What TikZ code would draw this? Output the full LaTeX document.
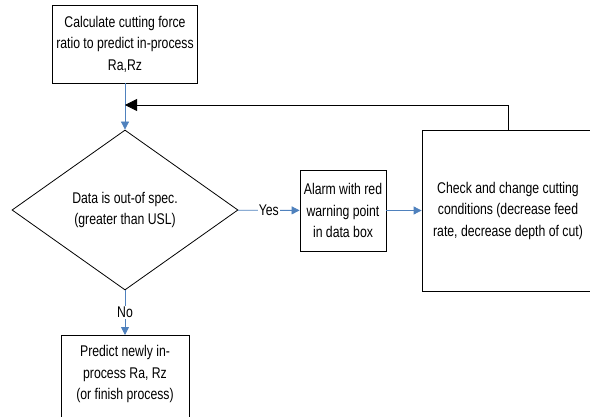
\documentclass[tikz,border=0pt]{standalone}
\usepackage{fontspec}
\setmainfont{Liberation Sans}[FakeStretch=0.79]
\usetikzlibrary{shapes.geometric,arrows.meta,positioning}
\definecolor{flowblue}{RGB}{79,129,189}

\tikzset{
  box/.style={draw, line width=0.8pt, align=center, inner sep=0pt},
  decision/.style={draw, diamond, line width=0.8pt, align=center, inner sep=0pt,
    minimum width=226pt, minimum height=160pt},
  flow/.style={draw=flowblue, line width=0.8pt, -{Triangle[length=8pt,width=8pt]}},
  loopback/.style={draw=black, line width=0.8pt, -{Triangle[length=12pt,width=12pt]}},
  lbl/.style={fill=white, inner sep=1pt}
}

\begin{document}
\begin{tikzpicture}[x=1pt,y=1pt,font=\fontsize{15.5pt}{21.5pt}\selectfont]
    \clip (0,0) rectangle (590,416);

    % Steps
    \node[box, minimum width=145pt, minimum height=78pt] (calc) at (125,372)
        {Calculate cutting force\\ratio to predict in-process\\Ra,Rz};
    \node[decision] (spec) at (125,206) {Data is out-of spec.\\(greater than USL)};
    \node[box, minimum width=86pt, minimum height=81pt] (alarm) at (343,205.5)
        {Alarm with red\\warning point\\in data box};
    \node[box, minimum width=172pt, minimum height=161pt] (check) at (508,205.5)
        {Check and change cutting\\conditions (decrease feed\\rate, decrease depth of cut)};
    \node[box, minimum width=128pt, minimum height=100pt, anchor=north] (predict) at (125,81) {};
    \node[align=center, anchor=north, inner sep=0pt] (predicttxt) at (125,70.5)
        {Predict newly in-\\process Ra, Rz\\(or finish process)};

    % Connectors
    \draw[flow] (calc) -- (spec);
    \draw[flow] (spec) -- node[lbl] {Yes} (alarm);
    \draw[flow] (alarm) -- (check);
    \draw[flow] (spec) -- node[lbl] {No} (predict);

    % Loop back
    \coordinate (merge) at (125,311);
    \draw[loopback] (check.north) |- (merge);
\end{tikzpicture}
\end{document}
